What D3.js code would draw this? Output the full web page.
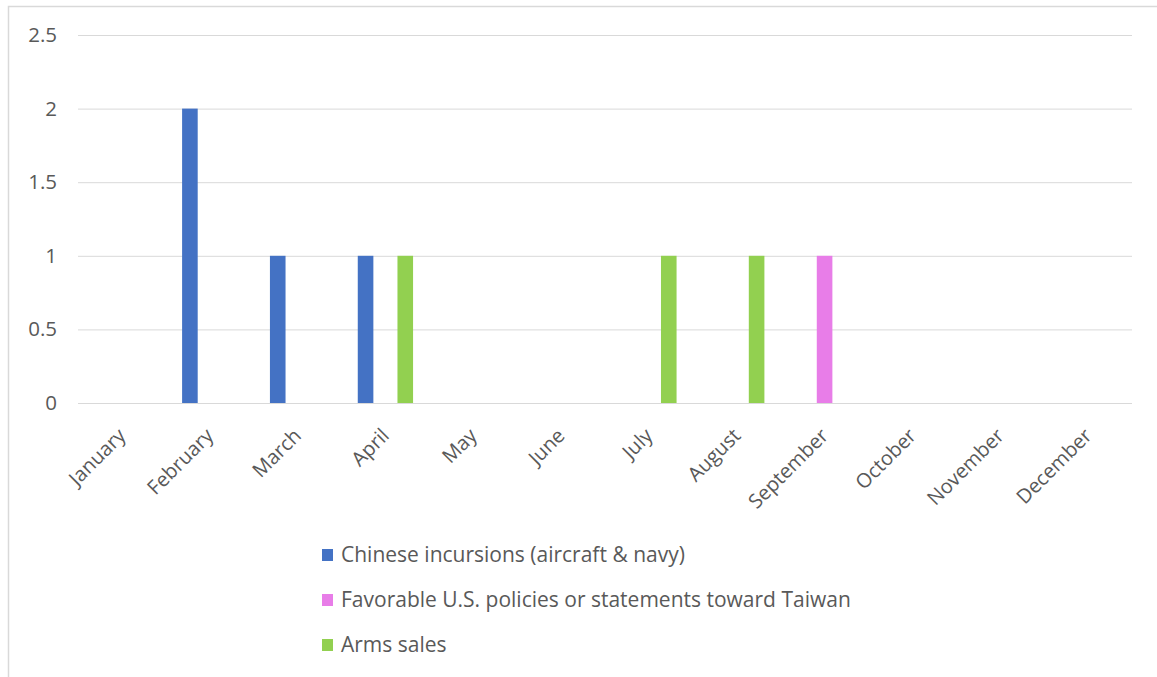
<!DOCTYPE html>
<html>
<head>
<meta charset="utf-8">
<script src="https://cdn.jsdelivr.net/npm/d3@7"></script>
<style>
  body { margin: 0; background: #fff; }
  text { font-family: "Open Sans", "Noto Sans", sans-serif; fill: #595959; }
</style>
</head>
<body>
<svg id="chart" width="1157" height="677"></svg>
<script>
// DATA
const months = ["January", "February", "March", "April", "May", "June",
  "July", "August", "September", "October", "November", "December"];
const seriesNames = [
  "Chinese incursions (aircraft & navy)",
  "Favorable U.S. policies or statements toward Taiwan",
  "Arms sales",
];
const seriesColors = ["#4472C4", "#E87DE8", "#92D050"];
const incursions = [0, 2, 1, 1, 0, 0, 0, 0, 0, 0, 0, 0];
const usPolicies = [0, 0, 0, 0, 0, 0, 0, 0, 1, 0, 0, 0];
const armsSales = [0, 0, 0, 1, 0, 0, 1, 1, 0, 0, 0, 0];
const yTicks = [0, 0.5, 1, 1.5, 2, 2.5];

const seriesValues = [incursions, usPolicies, armsSales];

// CANVAS SETUP
const svg = d3.select("#chart");
const margin = { top: 35, right: 25, bottom: 274, left: 78 },
  width = 1157 - margin.left - margin.right,
  height = 677 - margin.top - margin.bottom;

// chart frame
svg.append("rect")
  .attr("x", 8.5).attr("y", 6.5)
  .attr("width", 1200).attr("height", 700)
  .attr("fill", "none").attr("stroke", "#d9d9d9").attr("stroke-width", 1.5);

const g = svg.append("g").attr("transform", `translate(${margin.left},${margin.top})`);

// SCALES
const xScale = d3.scaleBand().domain(months).range([0, width]);
const step = 19.85;
const inner = d3.scaleBand()
  .domain(seriesNames)
  .range([-step * (3 - 0.214) / 2, step * (3 - 0.214) / 2])
  .paddingInner(0.214);
const yScale = d3.scaleLinear().domain([0, 2.5]).range([height, 0]);

// GRID + Y AXIS
g.append("g")
  .call(d3.axisLeft(yScale).tickValues(yTicks).tickSize(-width).tickFormat(d3.format("")))
  .call((ax) => {
    ax.select(".domain").remove();
    ax.selectAll("line").attr("stroke", "#d9d9d9").attr("stroke-width", 1);
    ax.selectAll("text")
      .attr("x", -21)
      .style("font-size", "20.5px")
      .style("fill", "#595959");
  });

// X AXIS LABELS
g.append("g")
  .attr("transform", `translate(0,${height})`)
  .call(d3.axisBottom(xScale).tickSize(0))
  .call((ax) => {
    ax.select(".domain").remove();
    ax.selectAll("text")
      .attr("text-anchor", "end")
      .attr("dy", "0.35em")
      .attr("transform", "translate(0,29) rotate(-45)")
      .attr("x", 0).attr("y", 0)
      .style("font-size", "20px")
      .style("fill", "#595959");
  });

// BARS
const bars = [];
seriesValues.forEach((vals, si) => {
  vals.forEach((v, mi) => {
    if (v > 0) bars.push({ month: months[mi], series: seriesNames[si], color: seriesColors[si], value: v });
  });
});

g.selectAll("rect.bar")
  .data(bars)
  .join("rect")
  .attr("class", "bar")
  .attr("x", (d) => xScale(d.month) + xScale.bandwidth() / 2 + inner(d.series))
  .attr("width", inner.bandwidth())
  .attr("y", (d) => yScale(d.value))
  .attr("height", (d) => yScale(0) - yScale(d.value))
  .attr("fill", (d) => d.color);

// LEGEND
const legend = svg.append("g").attr("transform", "translate(322,555)");
const items = legend.selectAll("g")
  .data(seriesNames)
  .join("g")
  .attr("transform", (d, i) => `translate(0,${i * 45})`);
items.append("rect")
  .attr("x", 0).attr("y", -6)
  .attr("width", 11).attr("height", 12)
  .attr("fill", (d, i) => seriesColors[i]);
items.append("text")
  .attr("x", 19).attr("y", 0)
  .attr("dy", "0.35em")
  .style("font-size", "21px")
  .text((d) => d);
</script>
</body>
</html>
